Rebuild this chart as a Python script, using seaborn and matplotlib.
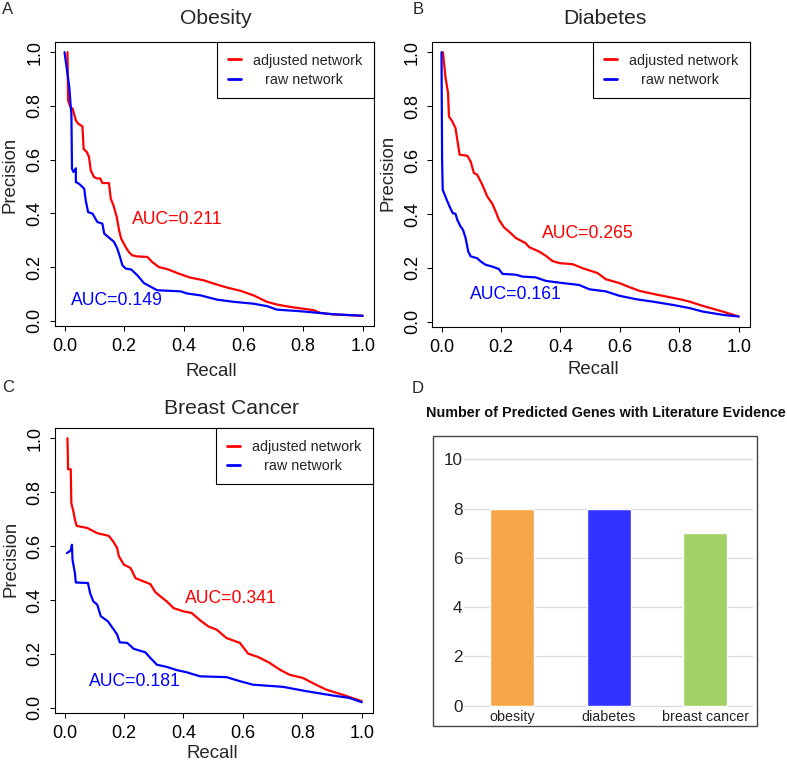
import matplotlib
matplotlib.use("Agg")
import matplotlib.pyplot as plt
from matplotlib.lines import Line2D
from matplotlib.patches import Rectangle
import seaborn as sns

# --- data ---

# A: obesity
obesity_adj_recall = [0.01, 0.012, 0.02, 0.027, 0.038, 0.046, 0.06, 0.064, 0.075, 0.082, 0.088, 0.099,
                      0.11, 0.12, 0.127, 0.149, 0.155, 0.164, 0.175, 0.183, 0.19, 0.205, 0.216, 0.227,
                      0.244, 0.278, 0.294, 0.317, 0.344, 0.383, 0.422, 0.467, 0.5, 0.545, 0.59, 0.634,
                      0.679, 0.712, 0.757, 0.835, 0.857, 0.9, 1.0]
obesity_adj_precision = [1.0, 0.82, 0.795, 0.79, 0.746, 0.734, 0.724, 0.64, 0.628, 0.61, 0.56, 0.535,
                         0.53, 0.53, 0.513, 0.513, 0.455, 0.43, 0.387, 0.337, 0.306, 0.275, 0.256, 0.244,
                         0.24, 0.238, 0.219, 0.2, 0.193, 0.176, 0.161, 0.151, 0.139, 0.124, 0.112, 0.095,
                         0.071, 0.061, 0.052, 0.04, 0.03, 0.024, 0.019]
obesity_raw_recall = [0.0, 0.016, 0.021, 0.023, 0.025, 0.03, 0.038, 0.038, 0.049, 0.066, 0.071, 0.079,
                      0.094, 0.11, 0.127, 0.133, 0.149, 0.166, 0.177, 0.186, 0.194, 0.205, 0.224, 0.244,
                      0.266, 0.294, 0.311, 0.389, 0.411, 0.456, 0.512, 0.567, 0.634, 0.679, 0.712, 0.79,
                      0.9, 1.0]
obesity_raw_precision = [1.0, 0.87, 0.795, 0.77, 0.566, 0.554, 0.568, 0.517, 0.51, 0.492, 0.449, 0.405,
                         0.399, 0.368, 0.362, 0.325, 0.31, 0.294, 0.269, 0.238, 0.207, 0.195, 0.191, 0.17,
                         0.141, 0.124, 0.114, 0.11, 0.102, 0.095, 0.079, 0.071, 0.064, 0.055, 0.042, 0.036,
                         0.025, 0.019]

# B: diabetes
diabetes_adj_recall = [0.005, 0.013, 0.022, 0.025, 0.036, 0.047, 0.053, 0.061, 0.087, 0.098, 0.109, 0.12,
                       0.137, 0.154, 0.171, 0.182, 0.193, 0.21, 0.233, 0.25, 0.283, 0.295, 0.328, 0.351,
                       0.373, 0.396, 0.441, 0.475, 0.525, 0.553, 0.598, 0.632, 0.666, 0.711, 0.756, 0.801,
                       0.835, 0.88, 0.947, 1.0]
diabetes_adj_precision = [1.0, 0.91, 0.849, 0.762, 0.744, 0.719, 0.676, 0.62, 0.616, 0.595, 0.552, 0.546,
                          0.509, 0.465, 0.438, 0.41, 0.379, 0.351, 0.329, 0.311, 0.292, 0.277, 0.261, 0.245,
                          0.226, 0.218, 0.214, 0.199, 0.181, 0.158, 0.144, 0.129, 0.115, 0.104, 0.094, 0.084,
                          0.075, 0.059, 0.038, 0.02]
diabetes_raw_recall = [0.0, 0.002, 0.004, 0.013, 0.027, 0.038, 0.047, 0.053, 0.064, 0.072, 0.081, 0.09,
                       0.098, 0.12, 0.132, 0.148, 0.171, 0.193, 0.205, 0.25, 0.272, 0.317, 0.351, 0.407,
                       0.463, 0.497, 0.553, 0.598, 0.655, 0.711, 0.778, 0.835, 0.88, 0.947, 1.0]
diabetes_raw_precision = [1.0, 0.6, 0.49, 0.465, 0.428, 0.403, 0.401, 0.379, 0.354, 0.342, 0.311, 0.261,
                          0.243, 0.236, 0.224, 0.212, 0.205, 0.196, 0.178, 0.175, 0.168, 0.165, 0.152, 0.144,
                          0.137, 0.121, 0.113, 0.097, 0.084, 0.075, 0.063, 0.051, 0.038, 0.026, 0.02]

# C: breast cancer
breast_adj_recall = [0.01, 0.012, 0.021, 0.023, 0.03, 0.035, 0.041, 0.077, 0.11, 0.149, 0.164, 0.177,
                     0.183, 0.2, 0.222, 0.239, 0.266, 0.289, 0.305, 0.322, 0.344, 0.367, 0.4, 0.428,
                     0.456, 0.484, 0.512, 0.545, 0.59, 0.618, 0.651, 0.69, 0.724, 0.757, 0.802, 0.846,
                     0.88, 0.935, 1.0]
breast_adj_precision = [1.0, 0.885, 0.885, 0.759, 0.728, 0.698, 0.675, 0.667, 0.648, 0.638, 0.617, 0.593,
                        0.562, 0.531, 0.519, 0.481, 0.469, 0.459, 0.43, 0.414, 0.395, 0.37, 0.358, 0.352,
                        0.325, 0.302, 0.29, 0.259, 0.241, 0.201, 0.189, 0.167, 0.142, 0.123, 0.111, 0.086,
                        0.068, 0.049, 0.025]
breast_raw_recall = [0.008, 0.021, 0.025, 0.027, 0.035, 0.038, 0.079, 0.086, 0.097, 0.11, 0.122, 0.146,
                     0.166, 0.177, 0.186, 0.211, 0.233, 0.272, 0.289, 0.311, 0.344, 0.378, 0.411, 0.456,
                     0.545, 0.59, 0.634, 0.735, 0.813, 0.902, 0.958, 1.0]
breast_raw_precision = [0.574, 0.584, 0.605, 0.549, 0.5, 0.465, 0.463, 0.426, 0.395, 0.383, 0.34, 0.321,
                        0.29, 0.272, 0.243, 0.241, 0.219, 0.206, 0.185, 0.16, 0.152, 0.14, 0.132, 0.117,
                        0.114, 0.099, 0.086, 0.078, 0.062, 0.046, 0.037, 0.021]

auc_adjusted = ["AUC=0.211", "AUC=0.265", "AUC=0.341"]
auc_raw = ["AUC=0.149", "AUC=0.161", "AUC=0.181"]
legend_labels = ["adjusted network", "   raw network"]

# D: literature evidence counts
bar_categories = ["obesity", "diabetes", "breast cancer"]
bar_values = [8, 8, 7]
bar_colors = ["#F7A64A", "#3333FF", "#A2D165"]

# --- figure setup ---
W, H = 787, 762
sns.set_style("ticks")
plt.rcParams["font.family"] = ["Liberation Sans", "DejaVu Sans"]

fig = plt.figure(figsize=(W / 100, H / 100), dpi=100)


def px_box(left, top, right, bottom):
    # pixel box (from top-left) -> figure fraction rect
    return [left / W, 1 - bottom / H, (right - left) / W, (bottom - top) / H]


def fx(x):
    return x / W


def fy(y):
    return 1 - y / H


def pr_panel(rect, adj_r, adj_p, raw_r, raw_p, auc_a, auc_b, pos_a, pos_b):
    ax = fig.add_axes(px_box(*rect))
    sns.lineplot(x=adj_r, y=adj_p, color="red", lw=1.6, sort=False, estimator=None, ax=ax)
    sns.lineplot(x=raw_r, y=raw_p, color="blue", lw=1.6, sort=False, estimator=None, ax=ax)
    ax.set_xlim(-0.032, 1.038)
    ax.set_ylim(-0.019, 1.038)
    ax.set_xticks([0, 0.2, 0.4, 0.6, 0.8, 1.0])
    ax.set_yticks([0, 0.2, 0.4, 0.6, 0.8, 1.0])
    ax.set_xticklabels(["0.0", "0.2", "0.4", "0.6", "0.8", "1.0"])
    ax.set_yticklabels(["0.0", "0.2", "0.4", "0.6", "0.8", "1.0"])
    ax.tick_params(length=3.6, width=0.75, labelsize=13, color="black", labelcolor="black")
    ax.tick_params(axis="x", pad=5)
    ax.tick_params(axis="y", pad=4.5, labelrotation=90)
    for lab in ax.get_yticklabels():
        lab.set_va("center")
    for s in ax.spines.values():
        s.set_visible(True)
        s.set_color("black")
        s.set_linewidth(0.8)
    ax.set_xlabel("")
    ax.set_ylabel("")
    ax.text(pos_a[0], pos_a[1], auc_a, color="red", fontsize=12.7, ha="center", va="center")
    ax.text(pos_b[0], pos_b[1], auc_b, color="blue", fontsize=12.7, ha="center", va="center")
    handles = [Line2D([], [], color="red", lw=2), Line2D([], [], color="blue", lw=2)]
    leg = ax.legend(handles, legend_labels, loc="upper right", bbox_to_anchor=(1, 1),
                    borderaxespad=0, fancybox=False, framealpha=1, fontsize=10.4,
                    handlelength=0.9, handletextpad=0.83, borderpad=0.8, labelspacing=0.37)
    leg.get_frame().set_edgecolor("black")
    leg.get_frame().set_linewidth(0.8)
    return ax


pr_panel((55, 42, 374, 326), obesity_adj_recall, obesity_adj_precision,
         obesity_raw_recall, obesity_raw_precision, auc_adjusted[0], auc_raw[0],
         (0.378, 0.377), (0.177, 0.077))
pr_panel((432, 42, 750, 327), diabetes_adj_recall, diabetes_adj_precision,
         diabetes_raw_recall, diabetes_raw_precision, auc_adjusted[1], auc_raw[1],
         (0.493, 0.329), (0.252, 0.1))
pr_panel((55, 428, 373, 713), breast_adj_recall, breast_adj_precision,
         breast_raw_recall, breast_raw_precision, auc_adjusted[2], auc_raw[2],
         (0.561, 0.405), (0.236, 0.099))

# titles, axis labels and panel letters
fig.text(fx(216), fy(24), "Obesity", fontsize=15.2, ha="center", va="baseline")
fig.text(fx(605), fy(24), "Diabetes", fontsize=15.2, ha="center", va="baseline")
fig.text(fx(231), fy(414), "Breast Cancer", fontsize=15.2, ha="center", va="baseline")
for x, y in [(211, 376), (593, 374), (212, 758)]:
    fig.text(fx(x), fy(y), "Recall", fontsize=13.4, ha="center", va="baseline")
for x, y in [(10, 175), (388.5, 173), (10.8, 559)]:
    fig.text(fx(x), fy(y), "Precision", fontsize=13.4, rotation=90, ha="center", va="center")
for x, y, s in [(1.7, 14, "A"), (412.7, 13.5, "B"), (2, 391.7, "C"), (411.7, 393.3, "D")]:
    fig.text(fx(x), fy(y), s, fontsize=12, ha="left", va="baseline")

# --- D: bar chart ---
unit = (705.7 - 459.3) / 10
top = 705.7 - 10.5 * unit
bottom = 705.7 + 0.1 * unit
axd = fig.add_axes(px_box(464, top, 753.3, bottom))
sns.barplot(x=bar_categories, y=bar_values, hue=bar_categories, palette=bar_colors,
            width=0.457, saturation=1, legend=False, ax=axd)
axd.set_ylim(-0.1, 10.5)
axd.set_yticks([0, 2, 4, 6, 8, 10])
axd.yaxis.grid(True, color="#dcdcdc", lw=1)
axd.set_axisbelow(True)
sns.despine(ax=axd, left=True, bottom=True)
axd.tick_params(axis="y", length=0, pad=1, labelsize=12.3, labelcolor="#222222")
axd.tick_params(axis="x", length=0, pad=1.4, labelsize=10.3, labelcolor="#222222")
axd.set_xlabel("")
axd.set_ylabel("")
fig.add_artist(Rectangle((fx(433.3), fy(726)), (757.3 - 433.3) / W, (726 - 436) / H,
                         transform=fig.transFigure, fill=False, edgecolor="#444444", lw=1))
fig.text(fx(606), fy(417), "Number of Predicted Genes with Literature Evidence",
         fontsize=10.4, fontweight="bold", ha="center", va="baseline", color="#111111")

fig.savefig("out.png", dpi=100)
